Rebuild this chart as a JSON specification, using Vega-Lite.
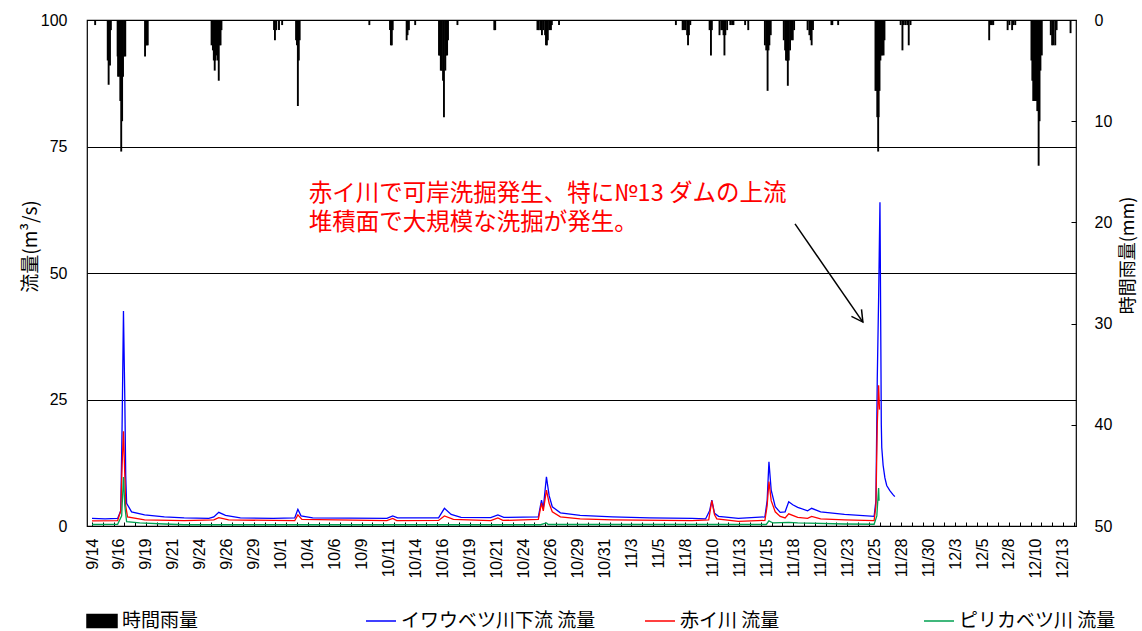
{
 "$schema": "https://vega.github.io/schema/vega-lite/v6.json",
 "width": 989,
 "height": 506,
 "autosize": {"type": "none"},
 "padding": {"left": 87, "top": 20, "right": 66, "bottom": 105},
 "background": "white",
 "config": {
  "view": {"stroke": "black", "strokeWidth": 1.2},
  "axis": {"labelColor": "black", "titleColor": "#000000", "titleFontWeight": "normal"}
 },
 "datasets": {
  "rain": [
   {"t": "2013-09-14T07:00", "r": 0.5},
   {"t": "2013-09-15T11:00", "r": 4},
   {"t": "2013-09-15T13:00", "r": 6.4},
   {"t": "2013-09-15T16:00", "r": 4.5},
   {"t": "2013-09-15T18:00", "r": 1},
   {"t": "2013-09-16T09:00", "r": 3.6},
   {"t": "2013-09-16T10:00", "r": 5.6},
   {"t": "2013-09-16T13:00", "r": 5.6},
   {"t": "2013-09-16T15:00", "r": 8},
   {"t": "2013-09-16T17:00", "r": 13},
   {"t": "2013-09-16T19:00", "r": 10},
   {"t": "2013-09-16T21:00", "r": 5.6},
   {"t": "2013-09-17T00:00", "r": 3.6},
   {"t": "2013-09-17T02:00", "r": 3.6},
   {"t": "2013-09-18T22:00", "r": 3.6},
   {"t": "2013-09-19T00:00", "r": 2.5},
   {"t": "2013-09-19T02:00", "r": 2.5},
   {"t": "2013-09-19T04:00", "r": 2.5},
   {"t": "2013-09-25T02:00", "r": 2.5},
   {"t": "2013-09-25T05:00", "r": 3},
   {"t": "2013-09-25T07:00", "r": 4},
   {"t": "2013-09-25T09:00", "r": 5},
   {"t": "2013-09-25T11:00", "r": 4},
   {"t": "2013-09-25T13:00", "r": 3.5},
   {"t": "2013-09-25T16:00", "r": 4},
   {"t": "2013-09-25T18:00", "r": 6},
   {"t": "2013-09-25T20:00", "r": 2.5},
   {"t": "2013-09-25T22:00", "r": 2.5},
   {"t": "2013-09-26T00:00", "r": 1},
   {"t": "2013-09-30T21:00", "r": 1},
   {"t": "2013-09-30T23:00", "r": 2},
   {"t": "2013-10-01T02:00", "r": 1},
   {"t": "2013-10-01T08:00", "r": 1},
   {"t": "2013-10-01T15:00", "r": 0.5},
   {"t": "2013-10-02T22:00", "r": 2},
   {"t": "2013-10-03T00:00", "r": 2.5},
   {"t": "2013-10-03T02:00", "r": 8.5},
   {"t": "2013-10-03T04:00", "r": 4},
   {"t": "2013-10-03T06:00", "r": 2},
   {"t": "2013-10-09T17:00", "r": 0.5},
   {"t": "2013-10-11T15:00", "r": 1},
   {"t": "2013-10-11T17:00", "r": 2.5},
   {"t": "2013-10-11T19:00", "r": 2.5},
   {"t": "2013-10-11T21:00", "r": 1},
   {"t": "2013-10-13T04:00", "r": 2},
   {"t": "2013-10-13T06:00", "r": 1.5},
   {"t": "2013-10-13T09:00", "r": 1},
   {"t": "2013-10-13T23:00", "r": 0.5},
   {"t": "2013-10-16T04:00", "r": 3.5},
   {"t": "2013-10-16T06:00", "r": 3.5},
   {"t": "2013-10-16T08:00", "r": 5},
   {"t": "2013-10-16T10:00", "r": 5},
   {"t": "2013-10-16T13:00", "r": 6},
   {"t": "2013-10-16T15:00", "r": 9.6},
   {"t": "2013-10-16T18:00", "r": 5},
   {"t": "2013-10-16T20:00", "r": 3.5},
   {"t": "2013-10-16T22:00", "r": 3.5},
   {"t": "2013-10-17T00:00", "r": 2},
   {"t": "2013-10-17T21:00", "r": 0.5},
   {"t": "2013-10-21T07:00", "r": 1},
   {"t": "2013-10-21T09:00", "r": 1},
   {"t": "2013-10-25T07:00", "r": 1},
   {"t": "2013-10-25T10:00", "r": 1},
   {"t": "2013-10-25T14:00", "r": 1},
   {"t": "2013-10-25T17:00", "r": 1.5},
   {"t": "2013-10-25T20:00", "r": 1},
   {"t": "2013-10-26T00:00", "r": 1.5},
   {"t": "2013-10-26T02:00", "r": 2.5},
   {"t": "2013-10-26T04:00", "r": 2.5},
   {"t": "2013-10-26T06:00", "r": 2},
   {"t": "2013-10-26T09:00", "r": 1},
   {"t": "2013-10-26T13:00", "r": 1},
   {"t": "2013-10-26T15:00", "r": 0.5},
   {"t": "2013-10-27T07:00", "r": 0.5},
   {"t": "2013-11-07T03:00", "r": 0.5},
   {"t": "2013-11-07T18:00", "r": 1},
   {"t": "2013-11-07T21:00", "r": 1},
   {"t": "2013-11-08T00:00", "r": 1},
   {"t": "2013-11-08T04:00", "r": 1.5},
   {"t": "2013-11-08T06:00", "r": 2.5},
   {"t": "2013-11-08T08:00", "r": 1.5},
   {"t": "2013-11-08T11:00", "r": 0.5},
   {"t": "2013-11-10T06:00", "r": 1},
   {"t": "2013-11-10T09:00", "r": 3.5},
   {"t": "2013-11-10T11:00", "r": 1},
   {"t": "2013-11-11T04:00", "r": 1.5},
   {"t": "2013-11-11T08:00", "r": 1},
   {"t": "2013-11-11T11:00", "r": 1},
   {"t": "2013-11-11T13:00", "r": 1.5},
   {"t": "2013-11-11T15:00", "r": 3.5},
   {"t": "2013-11-11T17:00", "r": 1.5},
   {"t": "2013-11-11T21:00", "r": 1},
   {"t": "2013-11-12T04:00", "r": 0.5},
   {"t": "2013-11-12T08:00", "r": 0.5},
   {"t": "2013-11-12T11:00", "r": 0.5},
   {"t": "2013-11-13T13:00", "r": 0.5},
   {"t": "2013-11-13T20:00", "r": 1},
   {"t": "2013-11-15T09:00", "r": 2.5},
   {"t": "2013-11-15T12:00", "r": 3},
   {"t": "2013-11-15T15:00", "r": 7},
   {"t": "2013-11-15T17:00", "r": 3},
   {"t": "2013-11-15T19:00", "r": 2.5},
   {"t": "2013-11-15T22:00", "r": 1.5},
   {"t": "2013-11-17T03:00", "r": 2},
   {"t": "2013-11-17T06:00", "r": 3},
   {"t": "2013-11-17T08:00", "r": 4},
   {"t": "2013-11-17T10:00", "r": 4},
   {"t": "2013-11-17T12:00", "r": 6.5},
   {"t": "2013-11-17T14:00", "r": 4},
   {"t": "2013-11-17T17:00", "r": 3},
   {"t": "2013-11-17T20:00", "r": 2},
   {"t": "2013-11-17T23:00", "r": 2},
   {"t": "2013-11-18T02:00", "r": 1},
   {"t": "2013-11-19T08:00", "r": 1},
   {"t": "2013-11-19T12:00", "r": 1.5},
   {"t": "2013-11-19T15:00", "r": 2},
   {"t": "2013-11-19T17:00", "r": 2.5},
   {"t": "2013-11-19T20:00", "r": 1},
   {"t": "2013-11-21T13:00", "r": 0.5},
   {"t": "2013-11-21T15:00", "r": 0.5},
   {"t": "2013-11-22T04:00", "r": 0.5},
   {"t": "2013-11-25T15:00", "r": 7},
   {"t": "2013-11-25T17:00", "r": 7},
   {"t": "2013-11-25T19:00", "r": 9.6},
   {"t": "2013-11-25T21:00", "r": 13},
   {"t": "2013-11-25T22:00", "r": 9.6},
   {"t": "2013-11-26T00:00", "r": 7},
   {"t": "2013-11-26T02:00", "r": 4},
   {"t": "2013-11-26T04:00", "r": 3.5},
   {"t": "2013-11-26T06:00", "r": 3.5},
   {"t": "2013-11-26T09:00", "r": 3.5},
   {"t": "2013-11-26T11:00", "r": 2},
   {"t": "2013-11-27T23:00", "r": 0.5},
   {"t": "2013-11-28T03:00", "r": 3},
   {"t": "2013-11-28T06:00", "r": 0.5},
   {"t": "2013-11-28T10:00", "r": 0.5},
   {"t": "2013-11-28T14:00", "r": 0.5},
   {"t": "2013-11-28T17:00", "r": 2.5},
   {"t": "2013-11-28T21:00", "r": 0.5},
   {"t": "2013-12-06T04:00", "r": 2},
   {"t": "2013-12-06T07:00", "r": 0.5},
   {"t": "2013-12-06T10:00", "r": 0.5},
   {"t": "2013-12-06T13:00", "r": 0.5},
   {"t": "2013-12-07T21:00", "r": 1},
   {"t": "2013-12-08T01:00", "r": 0.5},
   {"t": "2013-12-08T07:00", "r": 1},
   {"t": "2013-12-08T10:00", "r": 0.5},
   {"t": "2013-12-08T14:00", "r": 0.5},
   {"t": "2013-12-10T02:00", "r": 4},
   {"t": "2013-12-10T04:00", "r": 6},
   {"t": "2013-12-10T06:00", "r": 8},
   {"t": "2013-12-10T09:00", "r": 8},
   {"t": "2013-12-10T11:00", "r": 8},
   {"t": "2013-12-10T13:00", "r": 8},
   {"t": "2013-12-10T15:00", "r": 9},
   {"t": "2013-12-10T18:00", "r": 14.4},
   {"t": "2013-12-10T20:00", "r": 10},
   {"t": "2013-12-10T22:00", "r": 5},
   {"t": "2013-12-11T01:00", "r": 3.5},
   {"t": "2013-12-11T21:00", "r": 1.5},
   {"t": "2013-12-12T00:00", "r": 2.5},
   {"t": "2013-12-12T03:00", "r": 2.5},
   {"t": "2013-12-12T07:00", "r": 2.5},
   {"t": "2013-12-12T10:00", "r": 1},
   {"t": "2013-12-13T17:00", "r": 1.3}
  ],
  "iwaubetsu": [
   {"t": "2013-09-14T00:00", "v": 1.5},
   {"t": "2013-09-15T05:00", "v": 1.4},
   {"t": "2013-09-16T09:00", "v": 1.5},
   {"t": "2013-09-16T16:00", "v": 3},
   {"t": "2013-09-16T19:00", "v": 20},
   {"t": "2013-09-16T22:00", "v": 42.5},
   {"t": "2013-09-17T01:00", "v": 25},
   {"t": "2013-09-17T03:00", "v": 10},
   {"t": "2013-09-17T05:00", "v": 4.5},
   {"t": "2013-09-17T16:00", "v": 2.8},
   {"t": "2013-09-18T21:00", "v": 2.2},
   {"t": "2013-09-20T17:00", "v": 1.8},
   {"t": "2013-09-22T13:00", "v": 1.6},
   {"t": "2013-09-24T20:00", "v": 1.5},
   {"t": "2013-09-25T07:00", "v": 1.8},
   {"t": "2013-09-25T18:00", "v": 2.7},
   {"t": "2013-09-26T09:00", "v": 2.1},
   {"t": "2013-09-27T18:00", "v": 1.6},
   {"t": "2013-09-30T19:00", "v": 1.5},
   {"t": "2013-10-02T19:00", "v": 1.6},
   {"t": "2013-10-03T02:00", "v": 3.3},
   {"t": "2013-10-03T09:00", "v": 2.0},
   {"t": "2013-10-04T11:00", "v": 1.6},
   {"t": "2013-10-11T08:00", "v": 1.5},
   {"t": "2013-10-11T21:00", "v": 2.0},
   {"t": "2013-10-12T08:00", "v": 1.6},
   {"t": "2013-10-16T03:00", "v": 1.6},
   {"t": "2013-10-16T16:00", "v": 3.5},
   {"t": "2013-10-17T07:00", "v": 2.3},
   {"t": "2013-10-18T05:00", "v": 1.7},
   {"t": "2013-10-20T23:00", "v": 1.65},
   {"t": "2013-10-21T15:00", "v": 2.2},
   {"t": "2013-10-22T04:00", "v": 1.7},
   {"t": "2013-10-25T09:00", "v": 1.8},
   {"t": "2013-10-25T16:00", "v": 5.1},
   {"t": "2013-10-25T20:00", "v": 3.5},
   {"t": "2013-10-26T03:00", "v": 9.7},
   {"t": "2013-10-26T09:00", "v": 6},
   {"t": "2013-10-26T16:00", "v": 3.8},
   {"t": "2013-10-27T10:00", "v": 2.6},
   {"t": "2013-10-29T06:00", "v": 2.1},
   {"t": "2013-11-01T06:00", "v": 1.8},
   {"t": "2013-11-04T16:00", "v": 1.6},
   {"t": "2013-11-08T15:00", "v": 1.5},
   {"t": "2013-11-09T21:00", "v": 1.4},
   {"t": "2013-11-10T06:00", "v": 3},
   {"t": "2013-11-10T11:00", "v": 5.1},
   {"t": "2013-11-10T17:00", "v": 2.5},
   {"t": "2013-11-11T02:00", "v": 1.9},
   {"t": "2013-11-12T22:00", "v": 1.5},
   {"t": "2013-11-15T09:00", "v": 1.8},
   {"t": "2013-11-15T14:00", "v": 5},
   {"t": "2013-11-15T18:00", "v": 12.7},
   {"t": "2013-11-15T23:00", "v": 7.1},
   {"t": "2013-11-16T08:00", "v": 3.8},
   {"t": "2013-11-16T19:00", "v": 2.7},
   {"t": "2013-11-17T06:00", "v": 2.8},
   {"t": "2013-11-17T14:00", "v": 4.8},
   {"t": "2013-11-17T23:00", "v": 4.2},
   {"t": "2013-11-18T10:00", "v": 3.7},
   {"t": "2013-11-19T08:00", "v": 3.0},
   {"t": "2013-11-19T17:00", "v": 3.5},
   {"t": "2013-11-20T13:00", "v": 2.8},
   {"t": "2013-11-22T18:00", "v": 2.3},
   {"t": "2013-11-25T12:00", "v": 1.9},
   {"t": "2013-11-25T16:00", "v": 5},
   {"t": "2013-11-25T19:00", "v": 29},
   {"t": "2013-11-25T22:00", "v": 45},
   {"t": "2013-11-26T01:00", "v": 64},
   {"t": "2013-11-26T03:00", "v": 35},
   {"t": "2013-11-26T04:00", "v": 20},
   {"t": "2013-11-26T05:00", "v": 15.5},
   {"t": "2013-11-26T08:00", "v": 12},
   {"t": "2013-11-26T12:00", "v": 9.5},
   {"t": "2013-11-26T16:00", "v": 8},
   {"t": "2013-11-26T23:00", "v": 7.0},
   {"t": "2013-11-27T06:00", "v": 6.2},
   {"t": "2013-11-27T10:00", "v": 5.8}
  ],
  "akai": [
   {"t": "2013-09-14T00:00", "v": 1.0},
   {"t": "2013-09-16T09:00", "v": 1.05},
   {"t": "2013-09-16T16:00", "v": 3},
   {"t": "2013-09-16T19:00", "v": 12},
   {"t": "2013-09-16T22:00", "v": 18.7},
   {"t": "2013-09-17T01:00", "v": 10},
   {"t": "2013-09-17T03:00", "v": 4},
   {"t": "2013-09-17T07:00", "v": 1.8},
   {"t": "2013-09-18T21:00", "v": 1.2},
   {"t": "2013-09-22T13:00", "v": 1.05},
   {"t": "2013-09-25T07:00", "v": 1.2},
   {"t": "2013-09-25T18:00", "v": 1.65},
   {"t": "2013-09-26T16:00", "v": 1.2},
   {"t": "2013-10-02T19:00", "v": 1.05},
   {"t": "2013-10-03T02:00", "v": 2.2},
   {"t": "2013-10-03T11:00", "v": 1.3},
   {"t": "2013-10-11T08:00", "v": 1.05},
   {"t": "2013-10-11T21:00", "v": 1.5},
   {"t": "2013-10-12T06:00", "v": 1.05},
   {"t": "2013-10-16T03:00", "v": 1.1},
   {"t": "2013-10-16T16:00", "v": 2.0},
   {"t": "2013-10-17T12:00", "v": 1.3},
   {"t": "2013-10-20T23:00", "v": 1.05},
   {"t": "2013-10-21T15:00", "v": 1.6},
   {"t": "2013-10-22T02:00", "v": 1.1},
   {"t": "2013-10-25T09:00", "v": 1.3},
   {"t": "2013-10-25T16:00", "v": 4.5},
   {"t": "2013-10-25T20:00", "v": 3.0},
   {"t": "2013-10-26T03:00", "v": 7.1},
   {"t": "2013-10-26T09:00", "v": 4.5},
   {"t": "2013-10-26T16:00", "v": 2.8},
   {"t": "2013-10-27T10:00", "v": 1.8},
   {"t": "2013-10-29T06:00", "v": 1.4},
   {"t": "2013-11-01T06:00", "v": 1.2},
   {"t": "2013-11-08T15:00", "v": 1.05},
   {"t": "2013-11-10T04:00", "v": 1.2},
   {"t": "2013-11-10T11:00", "v": 5.0},
   {"t": "2013-11-10T17:00", "v": 2.2},
   {"t": "2013-11-10T22:00", "v": 1.4},
   {"t": "2013-11-12T22:00", "v": 0.9},
   {"t": "2013-11-15T09:00", "v": 1.1},
   {"t": "2013-11-15T14:00", "v": 4},
   {"t": "2013-11-15T18:00", "v": 8.8},
   {"t": "2013-11-15T23:00", "v": 5},
   {"t": "2013-11-16T08:00", "v": 2.8},
   {"t": "2013-11-16T19:00", "v": 1.9},
   {"t": "2013-11-17T06:00", "v": 1.6},
   {"t": "2013-11-17T14:00", "v": 2.4},
   {"t": "2013-11-18T10:00", "v": 1.7},
   {"t": "2013-11-19T08:00", "v": 1.5},
   {"t": "2013-11-19T17:00", "v": 1.9},
   {"t": "2013-11-20T13:00", "v": 1.4},
   {"t": "2013-11-22T18:00", "v": 1.2},
   {"t": "2013-11-25T12:00", "v": 1.05},
   {"t": "2013-11-25T16:00", "v": 4},
   {"t": "2013-11-25T19:00", "v": 20},
   {"t": "2013-11-25T22:00", "v": 27.8},
   {"t": "2013-11-26T00:00", "v": 23}
  ],
  "pirika": [
   {"t": "2013-09-14T00:00", "v": 0.3},
   {"t": "2013-09-16T09:00", "v": 0.35},
   {"t": "2013-09-16T18:00", "v": 2},
   {"t": "2013-09-16T22:00", "v": 9.7},
   {"t": "2013-09-17T01:00", "v": 4},
   {"t": "2013-09-17T05:00", "v": 0.85},
   {"t": "2013-09-18T10:00", "v": 0.6},
   {"t": "2013-09-20T17:00", "v": 0.4},
   {"t": "2013-09-22T13:00", "v": 0.25},
   {"t": "2013-10-25T14:00", "v": 0.25},
   {"t": "2013-10-26T03:00", "v": 0.6},
   {"t": "2013-10-26T07:00", "v": 0.3},
   {"t": "2013-11-15T12:00", "v": 0.3},
   {"t": "2013-11-15T18:00", "v": 1.0},
   {"t": "2013-11-16T03:00", "v": 0.6},
   {"t": "2013-11-17T14:00", "v": 0.7},
   {"t": "2013-11-18T10:00", "v": 0.6},
   {"t": "2013-11-22T18:00", "v": 0.4},
   {"t": "2013-11-25T12:00", "v": 0.35},
   {"t": "2013-11-25T18:00", "v": 2},
   {"t": "2013-11-25T22:00", "v": 7.5},
   {"t": "2013-11-25T23:00", "v": 5}
  ],
  "note": [
   {"t": "2013-10-04T02:00", "v": 65.7, "label": "赤イ川で可岸洗掘発生、特に№13 ダムの上流\n堆積面で大規模な洗掘が発生。"}
  ],
  "arrow": [
   {"t": "2013-11-18T04:00", "v": 59.7, "t2": "2013-11-24T11:00", "v2": 40.3}
  ]
 },
 "layer": [
  {
   "data": {"name": "rain"},
   "mark": {"type": "bar", "width": 1.9, "color": "black"},
   "encoding": {
    "x": {
     "field": "t", "type": "temporal",
     "scale": {"domain": [{"year": 2013, "month": 9, "date": 14, "hours": 0}, {"year": 2013, "month": 12, "date": 13, "hours": 18}], "nice": false},
     "axis": {"orient": "bottom", "tickCount": {"interval": "day", "step": 1}, "labels": false, "ticks": true, "tickSize": -4, "tickColor": "black", "tickWidth": 1, "domain": false, "grid": false, "title": null}
    },
    "y": {
     "field": "r", "type": "quantitative",
     "scale": {"domain": [0, 50], "reverse": true, "nice": false},
     "axis": {"orient": "right", "values": [0, 10, 20, 30, 40, 50], "ticks": true, "tickSize": -5, "tickColor": "black", "domain": false, "grid": false, "labelFont": "Liberation Sans", "labelFontSize": 16, "labelPadding": 23, "title": "時間雨量(mm)", "titleFont": "Noto Sans CJK JP", "titleFontSize": 18, "titleAngle": 270, "titleAlign": "center", "titleBaseline": "middle", "titleX": 52, "titleY": 235}
    },
    "color": {
     "datum": "時間雨量", "type": "nominal",
     "scale": {"domain": ["時間雨量", "イワウベツ川下流 流量", "赤イ川 流量", "ピリカベツ川 流量"], "range": ["#000000", "#0000FF", "#FF0000", "#00A050"]},
     "legend": {
      "title": null, "orient": "none", "legendX": -1, "legendY": 585, "direction": "horizontal", "columns": 4, "gridAlign": "all", "columnPadding": 46,
      "symbolType": "M-1,0L1,0", "symbolSize": 900, "symbolStrokeWidth": 1.5, "labelOffset": 4,
      "labelFont": "Noto Sans CJK JP", "labelFontSize": 19, "labelColor": "black", "labelLimit": 400,
      "encode": {"symbols": {"update": {
       "shape": {"signal": "datum.value === '時間雨量' ? 'M-1,-0.43L1,-0.43L1,0.43L-1,0.43Z' : 'M-1,0L1,0'"},
       "fill": {"signal": "datum.value === '時間雨量' ? '#000000' : 'transparent'"},
       "stroke": {"signal": "scale('color', datum.value)"},
       "strokeWidth": {"value": 1.5},
       "opacity": {"value": 1}
      }}}
     }
    }
   }
  },
  {
   "layer": [
    {
     "data": {"name": "iwaubetsu"},
     "mark": {"type": "line", "strokeWidth": 1.3},
     "encoding": {
      "x": {"field": "t", "type": "temporal",
       "axis": {
        "orient": "bottom",
        "tickCount": 200,
        "values": [
         {"year": 2013, "month": 9, "date": 14, "hours": 0},
         {"year": 2013, "month": 9, "date": 16, "hours": 12},
         {"year": 2013, "month": 9, "date": 19, "hours": 0},
         {"year": 2013, "month": 9, "date": 21, "hours": 12},
         {"year": 2013, "month": 9, "date": 24, "hours": 0},
         {"year": 2013, "month": 9, "date": 26, "hours": 12},
         {"year": 2013, "month": 9, "date": 29, "hours": 0},
         {"year": 2013, "month": 10, "date": 1, "hours": 12},
         {"year": 2013, "month": 10, "date": 4, "hours": 0},
         {"year": 2013, "month": 10, "date": 6, "hours": 12},
         {"year": 2013, "month": 10, "date": 9, "hours": 0},
         {"year": 2013, "month": 10, "date": 11, "hours": 12},
         {"year": 2013, "month": 10, "date": 14, "hours": 0},
         {"year": 2013, "month": 10, "date": 16, "hours": 12},
         {"year": 2013, "month": 10, "date": 19, "hours": 0},
         {"year": 2013, "month": 10, "date": 21, "hours": 12},
         {"year": 2013, "month": 10, "date": 24, "hours": 0},
         {"year": 2013, "month": 10, "date": 26, "hours": 12},
         {"year": 2013, "month": 10, "date": 29, "hours": 0},
         {"year": 2013, "month": 10, "date": 31, "hours": 12},
         {"year": 2013, "month": 11, "date": 3, "hours": 0},
         {"year": 2013, "month": 11, "date": 5, "hours": 12},
         {"year": 2013, "month": 11, "date": 8, "hours": 0},
         {"year": 2013, "month": 11, "date": 10, "hours": 12},
         {"year": 2013, "month": 11, "date": 13, "hours": 0},
         {"year": 2013, "month": 11, "date": 15, "hours": 12},
         {"year": 2013, "month": 11, "date": 18, "hours": 0},
         {"year": 2013, "month": 11, "date": 20, "hours": 12},
         {"year": 2013, "month": 11, "date": 23, "hours": 0},
         {"year": 2013, "month": 11, "date": 25, "hours": 12},
         {"year": 2013, "month": 11, "date": 28, "hours": 0},
         {"year": 2013, "month": 11, "date": 30, "hours": 12},
         {"year": 2013, "month": 12, "date": 3, "hours": 0},
         {"year": 2013, "month": 12, "date": 5, "hours": 12},
         {"year": 2013, "month": 12, "date": 8, "hours": 0},
         {"year": 2013, "month": 12, "date": 10, "hours": 12},
         {"year": 2013, "month": 12, "date": 13, "hours": 0}
        ],
        "format": "%-m/%-d", "labelAngle": 270, "labelAlign": "right", "labelBaseline": "middle", "labelPadding": 12,
        "ticks": false, "domain": false, "grid": false, "labelOverlap": false, "labelFlush": false, "labelBound": false,
        "labelFont": "Liberation Sans", "labelFontSize": 16, "title": null
       }
      },
      "y": {"field": "v", "type": "quantitative",
       "scale": {"domain": [0, 100], "nice": false},
       "axis": {"orient": "left", "values": [0, 25, 50, 75, 100], "ticks": false, "domain": false, "grid": true, "gridColor": "black", "gridOpacity": 1, "gridWidth": 1,
        "labelFont": "Liberation Sans", "labelFontSize": 16, "labelPadding": 20,
        "title": "流量(m³/s)", "titleFont": "Noto Sans CJK JP", "titleFontSize": 19, "titleAngle": 270, "titleAlign": "center", "titleBaseline": "middle", "titleX": -57, "titleY": 226}
      },
      "color": {"datum": "イワウベツ川下流 流量", "type": "nominal"}
     }
    },
    {
     "data": {"name": "akai"},
     "mark": {"type": "line", "strokeWidth": 1.3},
     "encoding": {
      "x": {"field": "t", "type": "temporal"},
      "y": {"field": "v", "type": "quantitative"},
      "color": {"datum": "赤イ川 流量", "type": "nominal"}
     }
    },
    {
     "data": {"name": "pirika"},
     "mark": {"type": "line", "strokeWidth": 1.3},
     "encoding": {
      "x": {"field": "t", "type": "temporal"},
      "y": {"field": "v", "type": "quantitative"},
      "color": {"datum": "ピリカベツ川 流量", "type": "nominal"}
     }
    },
    {
     "data": {"name": "note"},
     "mark": {"type": "text", "align": "left", "baseline": "middle", "lineBreak": "\n", "lineHeight": 29.5, "font": "Noto Sans CJK JP", "fontSize": 23.5, "color": "#FF0000"},
     "encoding": {
      "x": {"field": "t", "type": "temporal"},
      "y": {"field": "v", "type": "quantitative"},
      "text": {"field": "label"}
     }
    },
    {
     "data": {"name": "arrow"},
     "mark": {"type": "rule", "color": "black", "strokeWidth": 1.5},
     "encoding": {
      "x": {"field": "t", "type": "temporal"},
      "y": {"field": "v", "type": "quantitative"},
      "x2": {"field": "t2"},
      "y2": {"field": "v2"}
     }
    },
    {
     "data": {"name": "arrow"},
     "mark": {"type": "point", "shape": "M-1,-0.55L0,0L-1,0.55", "filled": false, "stroke": "black", "strokeWidth": 1.5, "size": 500, "angle": 55, "opacity": 1},
     "encoding": {
      "x": {"field": "t2", "type": "temporal"},
      "y": {"field": "v2", "type": "quantitative"}
     }
    }
   ]
  }
 ],
 "resolve": {"scale": {"y": "independent"}, "axis": {"y": "independent", "x": "independent"}}
}
